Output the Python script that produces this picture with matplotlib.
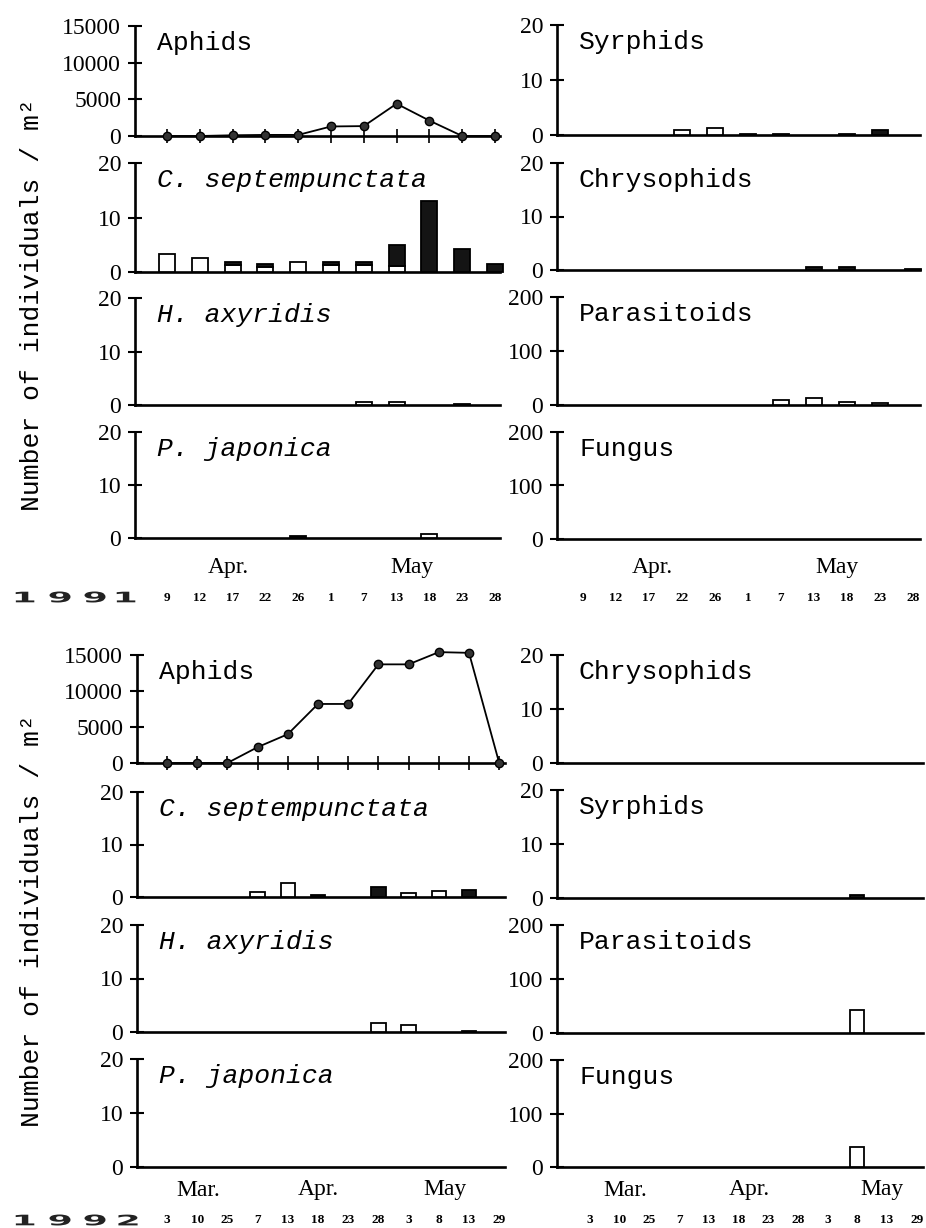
import matplotlib
matplotlib.use("Agg")
import matplotlib.pyplot as plt
import numpy as np
from matplotlib.transforms import blended_transform_factory, Affine2D
from matplotlib.textpath import TextPath
from matplotlib.patches import PathPatch
from matplotlib.font_manager import FontProperties

# ---- data ----
dates_1991 = ['9', '12', '17', '22', '26', '1', '7', '13', '18', '23', '28']
dates_1992 = ['3', '10', '25', '7', '13', '18', '23', '28', '3', '8', '13', '29']

aphids_1991 = [0, 0, 100, 150, 150, 1300, 1350, 4400, 2100, 0, 0]
aphids_1992 = [0, 0, 0, 2200, 4000, 8200, 8200, 13700, 13700, 15400, 15300, 0]

# open bars (white) and filled bars (black, stacked on top)
c7_white_1991 = [3.3, 2.6, 1.2, 0.9, 1.8, 1.2, 1.2, 1.1, 0, 0, 0]
c7_black_1991 = [0, 0, 0.6, 0.5, 0, 0.6, 0.6, 3.9, 13.0, 4.2, 1.5]
ha_white_1991 = [0, 0, 0, 0, 0, 0, 0.6, 0.6, 0, 0, 0]
ha_black_1991 = [0, 0, 0, 0, 0, 0, 0, 0, 0, 0.2, 0]
pj_white_1991 = [0, 0, 0, 0, 0, 0, 0, 0, 0.7, 0, 0]
pj_black_1991 = [0, 0, 0, 0, 0.3, 0, 0, 0, 0, 0, 0]
syr_white_1991 = [0, 0, 0, 0.9, 1.3, 0, 0, 0, 0, 0, 0]
syr_black_1991 = [0, 0, 0, 0, 0, 0.2, 0.2, 0, 0.2, 1.0, 0]
chr_white_1991 = [0] * 11
chr_black_1991 = [0, 0, 0, 0, 0, 0, 0, 0.5, 0.5, 0, 0.2]
par_white_1991 = [0, 0, 0, 0, 0, 0, 10, 13, 6, 3, 0]
par_black_1991 = [0] * 11
fun_white_1991 = [0] * 11
fun_black_1991 = [0] * 11

c7_white_1992 = [0, 0, 0, 1.0, 2.6, 0, 0, 0, 0.7, 1.1, 0, 0]
c7_black_1992 = [0, 0, 0, 0, 0, 0.3, 0, 1.9, 0, 0, 1.4, 0]
ha_white_1992 = [0, 0, 0, 0, 0, 0, 0, 1.6, 1.3, 0, 0, 0]
ha_black_1992 = [0, 0, 0, 0, 0, 0, 0, 0, 0, 0, 0.2, 0]
pj_white_1992 = [0] * 12
pj_black_1992 = [0] * 12
chr_white_1992 = [0] * 12
chr_black_1992 = [0] * 12
syr_white_1992 = [0] * 12
syr_black_1992 = [0, 0, 0, 0, 0, 0, 0, 0, 0, 0.5, 0, 0]
par_white_1992 = [0, 0, 0, 0, 0, 0, 0, 0, 0, 42, 0, 0]
par_black_1992 = [0] * 12
fun_white_1992 = [0, 0, 0, 0, 0, 0, 0, 0, 0, 37, 0, 0]
fun_black_1992 = [0] * 12

W, H = 926, 1228
MONO = 'Liberation Mono'
SERIF = 'Liberation Serif'

fig = plt.figure(figsize=(W / 100, H / 100), dpi=100)
base = fig.add_axes([0, 0, 1, 1])
base.set_xlim(0, W)
base.set_ylim(H, 0)
base.axis('off')


def panel(xl, xr, yb, yt, x0, step, top, ticks):
    ax = fig.add_axes([xl / W, 1 - yb / H, (xr - xl) / W, (yb - yt) / H])
    ax.set_xlim((xl - x0) / step, (xr - x0) / step)
    ax.set_ylim(0, top)
    ax.patch.set_alpha(0)
    for s in ['top', 'right']:
        ax.spines[s].set_visible(False)
    for s in ['left', 'bottom']:
        ax.spines[s].set_linewidth(1.9)
    ax.set_yticks(ticks)
    ax.set_yticklabels([str(t) for t in ticks], fontfamily=SERIF, fontsize=17)
    ax.tick_params(axis='y', direction='inout', length=10, width=1.5, pad=5)
    ax.set_xticks([])
    return ax


def title(ax, text, italic=False):
    ax.annotate(text, xy=(0, 1), xycoords='axes fraction', xytext=(22, -17),
                textcoords='offset pixels', va='center', ha='left',
                fontfamily=MONO, fontsize=19,
                fontstyle='italic' if italic else 'normal')


def bars(ax, white, black, width):
    idx = np.arange(len(white))
    white = np.array(white, float)
    black = np.array(black, float)
    m = white > 0
    ax.bar(idx[m], white[m], width, color='white', edgecolor='black',
           linewidth=1.3, zorder=3, clip_on=False)
    m = black > 0
    ax.bar(idx[m], black[m], width, bottom=white[m], color='#141414',
           edgecolor='black', linewidth=1.3, zorder=3, clip_on=False)


def aphid_line(ax, vals):
    idx = np.arange(len(vals))
    ax.plot(idx, vals, color='black', linewidth=1.3, marker='o', markersize=6,
            markerfacecolor='#333333', markeredgecolor='black', zorder=4, clip_on=False)
    ax.set_xticks(idx)
    ax.set_xticklabels([])
    ax.tick_params(axis='x', direction='inout', length=10, width=1.2)


def date_labels(ax, labels, y):
    tr = blended_transform_factory(ax.transData, base.transData)
    for i, lab in enumerate(labels):
        ax.text(i, y, lab, transform=tr, ha='center', va='center',
                fontfamily=SERIF, fontsize=9.5, fontweight='bold')


def month_labels(items, y):
    for name, x in items:
        base.text(x, y, name, ha='center', va='center', fontfamily=SERIF, fontsize=17)


fp_year = FontProperties(family='DejaVu Sans', weight='bold')


def year_label(digits, xs, y):
    ref = TextPath((0, 0), '9', size=10, prop=fp_year).get_extents()
    sx = 21 / ref.width
    sy = 11 / ref.height
    for d, x in zip(digits, xs):
        tp = TextPath((0, 0), d, size=10, prop=fp_year)
        bb = tp.get_extents()
        cx = (bb.x0 + bb.x1) / 2
        cy = (bb.y0 + bb.y1) / 2
        tr = Affine2D().translate(-cx, -cy).scale(sx, -sy).translate(x, y)
        base.add_patch(PathPatch(tr.transform_path(tp), color='#222222', lw=0))


# ---- 1991 ----
L91 = dict(xl=135, xr=500, x0=167, step=32.8)
R91 = dict(xl=557, xr=920, x0=583, step=33.0)
rows_l91 = [(136, 26), (272, 163), (405, 298), (538, 432)]
rows_r91 = [(135, 25), (270, 163), (405, 297), (539, 432)]

ax = panel(yb=rows_l91[0][0], yt=rows_l91[0][1], top=15000, ticks=[0, 5000, 10000, 15000], **L91)
aphid_line(ax, aphids_1991)
title(ax, 'Aphids')

left91 = [('C. septempunctata', c7_white_1991, c7_black_1991),
          ('H. axyridis', ha_white_1991, ha_black_1991),
          ('P. japonica', pj_white_1991, pj_black_1991)]
for (yb, yt), (name, wv, bv) in zip(rows_l91[1:], left91):
    ax = panel(yb=yb, yt=yt, top=20, ticks=[0, 10, 20], **L91)
    bars(ax, wv, bv, 0.49)
    title(ax, name, italic=True)
date_labels(ax, dates_1991, 598)

right91 = [('Syrphids', syr_white_1991, syr_black_1991, 20),
           ('Chrysophids', chr_white_1991, chr_black_1991, 20),
           ('Parasitoids', par_white_1991, par_black_1991, 200),
           ('Fungus', fun_white_1991, fun_black_1991, 200)]
for (yb, yt), (name, wv, bv, top) in zip(rows_r91, right91):
    ax = panel(yb=yb, yt=yt, top=top, ticks=[0, top // 2, top], **R91)
    bars(ax, wv, bv, 0.46)
    title(ax, name)
date_labels(ax, dates_1991, 598)

month_labels([('Apr.', 228), ('May', 412), ('Apr.', 652), ('May', 837)], 568)
year_label('1991', [25, 60, 95, 126], 597)

# ---- 1992 ----
L92 = dict(xl=137, xr=505, x0=167, step=30.2)
R92 = dict(xl=557, xr=923, x0=590, step=29.7)
rows_l92 = [(763, 655), (897, 792), (1032, 925), (1167, 1059)]
rows_r92 = [(763, 655), (898, 790), (1033, 925), (1167, 1060)]

ax = panel(yb=rows_l92[0][0], yt=rows_l92[0][1], top=15000, ticks=[0, 5000, 10000, 15000], **L92)
aphid_line(ax, aphids_1992)
title(ax, 'Aphids')

left92 = [('C. septempunctata', c7_white_1992, c7_black_1992),
          ('H. axyridis', ha_white_1992, ha_black_1992),
          ('P. japonica', pj_white_1992, pj_black_1992)]
for (yb, yt), (name, wv, bv) in zip(rows_l92[1:], left92):
    ax = panel(yb=yb, yt=yt, top=20, ticks=[0, 10, 20], **L92)
    bars(ax, wv, bv, 0.48)
    title(ax, name, italic=True)
date_labels(ax, dates_1992, 1220)

right92 = [('Chrysophids', chr_white_1992, chr_black_1992, 20),
           ('Syrphids', syr_white_1992, syr_black_1992, 20),
           ('Parasitoids', par_white_1992, par_black_1992, 200),
           ('Fungus', fun_white_1992, fun_black_1992, 200)]
for (yb, yt), (name, wv, bv, top) in zip(rows_r92, right92):
    ax = panel(yb=yb, yt=yt, top=top, ticks=[0, top // 2, top], **R92)
    bars(ax, wv, bv, 0.48)
    title(ax, name)
date_labels(ax, dates_1992, 1220)

month_labels([('Mar.', 198), ('Apr.', 318), ('May', 445),
              ('Mar.', 625), ('Apr.', 749), ('May', 882)], 1190)
year_label('1992', [25, 60, 95, 128], 1220)

# y-axis labels
for yc in [305, 921]:
    base.text(32, yc, 'Number of individuals / m²', rotation=90, ha='center', va='center',
              fontfamily=MONO, fontsize=19)

fig.savefig('out.png', dpi=100)
